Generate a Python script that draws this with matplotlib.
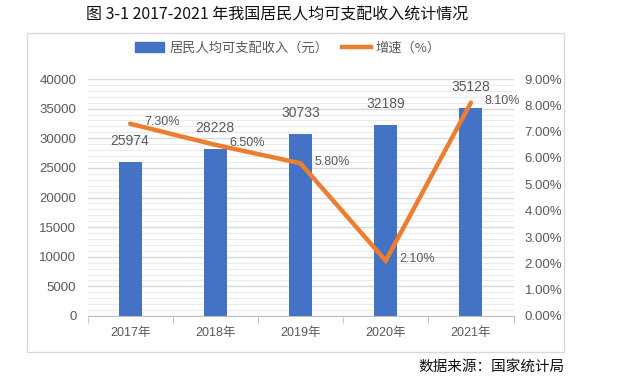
import matplotlib.pyplot as plt
from matplotlib.patches import Rectangle
from matplotlib.lines import Line2D
from matplotlib.ticker import MultipleLocator, FuncFormatter

# ---- data ----
years = ['2017年', '2018年', '2019年', '2020年', '2021年']
income = [25974, 28228, 30733, 32189, 35128]
growth = [7.30, 6.50, 5.80, 2.10, 8.10]

CJK = 'Noto Sans CJK SC'
NUM = ['Liberation Sans', CJK]
BLUE = '#4472C4'
ORANGE = '#ED7D31'
TXT = '#595959'

W, H = 641, 381
fig = plt.figure(figsize=(W / 100, H / 100), dpi=100)

def fx(px):
    return px / W

def fy(py):
    return 1 - py / H

# outer chart frame
fig.patches.append(Rectangle((fx(27), fy(352)), fx(564) - fx(27), fy(33) - fy(352),
                             transform=fig.transFigure, fill=False,
                             edgecolor='#D9D9D9', linewidth=1))

ax = fig.add_axes([fx(87.5), fy(316), fx(513.5) - fx(87.5), fy(79) - fy(316)])
x = list(range(len(years)))

ax.bar(x, income, width=0.27, color=BLUE, zorder=3)
ax.set_xlim(-0.5, len(years) - 0.5)
ax.set_ylim(0, 40000)
ax.yaxis.set_major_locator(MultipleLocator(5000))
ax.yaxis.set_minor_locator(MultipleLocator(1000))
ax.grid(axis='y', which='major', color='#D9D9D9', linewidth=1, zorder=0)
ax.grid(axis='y', which='minor', color='#EBEBEB', linewidth=0.8, zorder=0)
for s in ['top', 'right', 'left']:
    ax.spines[s].set_visible(False)
ax.spines['bottom'].set_color('#BFBFBF')
ax.tick_params(axis='y', which='both', length=0, pad=8, labelcolor=TXT, labelsize=9.5)
ax.set_xticks(x)
ax.set_xticklabels(years)
ax.set_xticks([i + 0.5 for i in range(-1, len(years))], minor=True)
ax.tick_params(axis='x', which='major', length=0, pad=8, labelcolor=TXT, labelsize=9)
ax.tick_params(axis='x', which='minor', length=5, color='#BFBFBF')
for lab in ax.get_xticklabels() + ax.get_yticklabels():
    lab.set_family(NUM)

for xi, v in zip(x, income):
    ax.annotate(str(v), (xi, v), xytext=(0, 10), textcoords='offset points',
                ha='center', va='bottom', fontsize=10, color=TXT, family=NUM)

ax2 = ax.twinx()
ax2.plot(x, growth, color=ORANGE, linewidth=3.2, solid_capstyle='round',
         solid_joinstyle='miter', zorder=4)
ax2.set_ylim(0, 9)
ax2.yaxis.set_major_locator(MultipleLocator(1))
ax2.yaxis.set_major_formatter(FuncFormatter(lambda v, p: '{:.2f}%'.format(v)))
for s in ['top', 'right', 'left', 'bottom']:
    ax2.spines[s].set_visible(False)
ax2.tick_params(axis='y', length=0, pad=8, labelcolor=TXT, labelsize=9.5)
for lab in ax2.get_yticklabels():
    lab.set_family(NUM)

for xi, g in zip(x, growth):
    ax2.annotate('{:.2f}%'.format(g), (xi, g), xytext=(10, 1), textcoords='offset points',
                 ha='left', va='center', fontsize=9, color=TXT, family=NUM)

handles = [Rectangle((0, 0), 1, 1, color=BLUE),
           Line2D([0], [0], color=ORANGE, linewidth=3.2)]
fig.legend(handles, ['居民人均可支配收入（元）', '增速（%）'], loc='center',
           bbox_to_anchor=(fx(288), fy(48)), ncol=2, frameon=False,
           prop={'family': CJK, 'size': 9.5}, labelcolor=TXT,
           handlelength=2.2, handleheight=0.8, columnspacing=1.0, handletextpad=0.4)

fig.text(fx(277), fy(15), '图 3-1 2017-2021 年我国居民人均可支配收入统计情况',
         ha='center', va='center', fontsize=11.5, family=CJK, color='#111111')
fig.text(fx(565), fy(368), '数据来源：国家统计局', ha='right', va='center',
         fontsize=10.5, family=CJK, color='#111111')

fig.savefig('out.png', dpi=100)
